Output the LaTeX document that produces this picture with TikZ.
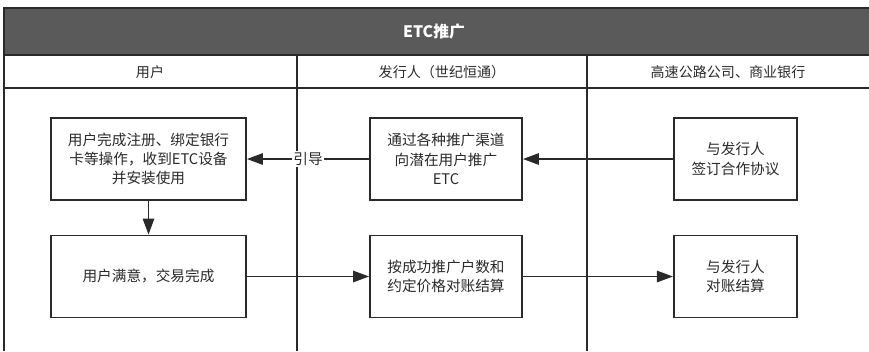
\documentclass[tikz,border=0pt]{standalone}
\usepackage{fontspec}
\newfontfamily\cjk{Noto Sans CJK SC}
\usetikzlibrary{arrows.meta,positioning}
\definecolor{bandgray}{HTML}{5A5A5A}
\definecolor{inkgray}{HTML}{2A2A2A}
\newlength{\mydrawlinewidth}
\setlength{\mydrawlinewidth}{1.5pt}

\begin{document}
\begin{tikzpicture}[%
            x=0.03cm,y=-0.03cm,%
            lane/.style={draw=inkgray,line width=\mydrawlinewidth},%
            laneheader/.style={text=inkgray,font=\cjk\fontsize{12}{14}\selectfont},%
            procbox/.style={
                rectangle,draw=inkgray,
                line width=\mydrawlinewidth,
                fill=white,text=inkgray,
                align=center,inner sep=2pt,
                font=\cjk\fontsize{12.5}{16.5}\selectfont,
                minimum height=2.46cm,
                },%
            flow/.style={
                draw=inkgray,line width=\mydrawlinewidth,
                -{Triangle[length=4.8mm,width=3.4mm]},
                }
            ]
        \useasboundingbox (0,0) rectangle (869,351);
        % title band and lanes
        \fill[bandgray] (4,8) rectangle (869,55);
        \draw[lane] (869,8) -- (4,8) -- (4,351);
        \draw[lane] (4,55) -- (869,55);
        \draw[lane] (4,88) -- (869,88);
        \draw[lane] (297,55) -- (297,351);
        \draw[lane] (587,55) -- (587,351);
        \node[text=white,font=\cjk\bfseries\fontsize{13.5}{15}\selectfont] (title) at (434,32) {ETC推广};
        \node[laneheader] (user) at (150,72) {用户};
        \node[laneheader] (issuer) at (442,72) {发行人（世纪恒通）};
        \node[laneheader] (bank) at (728,72) {高速公路公司、商业银行};
        % steps
        \node[procbox,minimum width=5.85cm] (register) at (148.5,159) {用户完成注册、绑定银行\\卡等操作，收到ETC设备\\并安装使用};
        \node[procbox,minimum width=4.56cm] (promote) at (446,159) {通过各种推广渠道\\向潜在用户推广\\ETC};
        \node[procbox,minimum width=3.7cm] (agree) at (735.5,159) {与发行人\\签订合作协议};
        \node[procbox,minimum width=5.85cm] (satisfy) at (148.5,276.5) {用户满意，交易完成};
        \node[procbox,minimum width=4.56cm] (settle) at (446,276.5) {按成功推广户数和\\约定价格对账结算};
        \node[procbox,minimum width=3.7cm] (reconcile) at (735.5,276.5) {与发行人\\对账结算};
        % connectors
        \draw[flow] (agree) -- (promote);
        \draw[flow] (promote) -- node[fill=white,inner sep=1pt,text=inkgray,font=\cjk\fontsize{12.5}{14}\selectfont] (guide) {引导} (register);
        \draw[flow] (register) -- (satisfy);
        \draw[flow] (satisfy) -- (settle);
        \draw[flow] (settle) -- (reconcile);
\end{tikzpicture}
\end{document}
